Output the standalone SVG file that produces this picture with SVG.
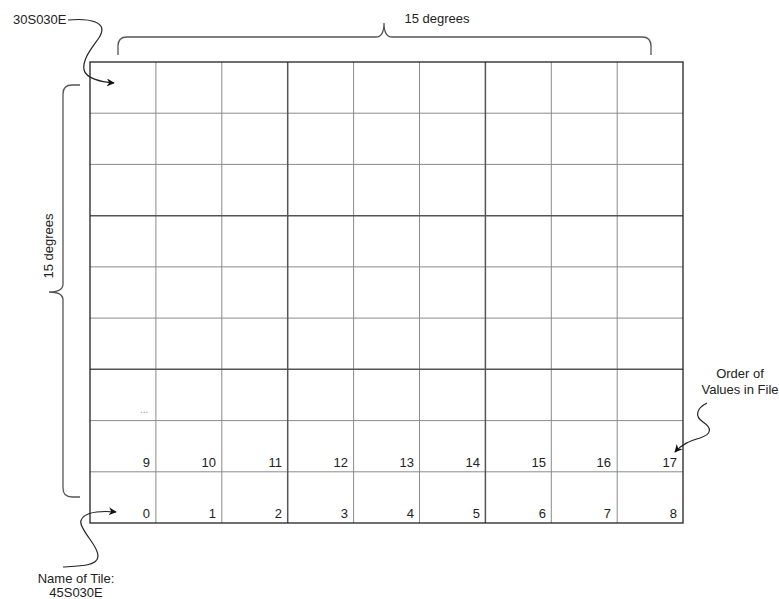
<svg xmlns="http://www.w3.org/2000/svg" width="779" height="599" viewBox="0 0 779 599">
<defs>
<style>
text{font-family:"Liberation Sans",Arial,sans-serif;font-size:13px;fill:#222}
.num{text-anchor:end}
.thin{stroke:#8a8a8a;stroke-width:1;fill:none}
.thick{stroke:#555;stroke-width:1.5;fill:none}
.brace{stroke:#555;stroke-width:1.3;fill:none}
.conn{stroke:#222;stroke-width:1.2;fill:none}
</style>
<marker id="arr" viewBox="0 0 10 10" refX="9" refY="5" markerWidth="8" markerHeight="8" orient="auto" markerUnits="userSpaceOnUse">
<path d="M0,0 L10,5 L0,10 L3,5 Z" fill="#111"/>
</marker>
</defs>
<rect width="779" height="599" fill="#fff"/>
<g id="grid">
<g class="thin">
<line x1="155.9" y1="62" x2="155.9" y2="523"/>
<line x1="221.8" y1="62" x2="221.8" y2="523"/>
<line x1="353.6" y1="62" x2="353.6" y2="523"/>
<line x1="419.5" y1="62" x2="419.5" y2="523"/>
<line x1="551.3" y1="62" x2="551.3" y2="523"/>
<line x1="617.2" y1="62" x2="617.2" y2="523"/>
<line x1="90" y1="113.2" x2="683" y2="113.2"/>
<line x1="90" y1="164.4" x2="683" y2="164.4"/>
<line x1="90" y1="266.9" x2="683" y2="266.9"/>
<line x1="90" y1="318.1" x2="683" y2="318.1"/>
<line x1="90" y1="420.6" x2="683" y2="420.6"/>
<line x1="90" y1="471.8" x2="683" y2="471.8"/>
</g>
<g class="thick">
<line x1="287.7" y1="62" x2="287.7" y2="523"/>
<line x1="485.4" y1="62" x2="485.4" y2="523"/>
<line x1="90" y1="215.7" x2="683" y2="215.7"/>
<line x1="90" y1="369.3" x2="683" y2="369.3"/>
</g>
<rect x="90" y="62" width="593" height="461" fill="none" stroke="#222" stroke-width="1.3"/>
</g>
<g id="values">
<text x="140" y="413" style="fill:#999;font-size:10px">...</text>
<text class="num" x="150" y="467">9</text>
<text class="num" x="216" y="467">10</text>
<text class="num" x="282" y="467">11</text>
<text class="num" x="348" y="467">12</text>
<text class="num" x="414" y="467">13</text>
<text class="num" x="480" y="467">14</text>
<text class="num" x="546" y="467">15</text>
<text class="num" x="611" y="467">16</text>
<text class="num" x="677" y="467">17</text>
<text class="num" x="150" y="518">0</text>
<text class="num" x="216" y="518">1</text>
<text class="num" x="282" y="518">2</text>
<text class="num" x="348" y="518">3</text>
<text class="num" x="414" y="518">4</text>
<text class="num" x="480" y="518">5</text>
<text class="num" x="546" y="518">6</text>
<text class="num" x="611" y="518">7</text>
<text class="num" x="677" y="518">8</text>
</g>
<g id="top-brace">
<path class="brace" d="M118,55 L118,46 Q118,37 127,37 L376,37 Q384,37 384,23 Q384,37 392,37 L642,37 Q651,37 651,46 L651,55"/>
<text x="437" y="23" text-anchor="middle">15 degrees</text>
</g>
<g id="left-brace">
<path class="brace" d="M80,85 L72,85 Q63,85 63,94 L63,284 Q63,292 49,292 Q63,292 63,300 L63,488 Q63,497 72,497 L80,497"/>
<text transform="translate(53,246) rotate(-90)" text-anchor="middle">15 degrees</text>
</g>
<g id="label-30S030E">
<text x="13" y="24">30S030E</text>
</g>
<g id="label-name">
<text x="76" y="583" text-anchor="middle">Name of Tile:</text>
<text x="76" y="597" text-anchor="middle">45S030E</text>
</g>
<g id="label-order">
<text x="740" y="378" text-anchor="middle">Order of</text>
<text x="740" y="394" text-anchor="middle">Values in File</text>
</g>
<g id="connectors">
<path class="conn" marker-end="url(#arr)" d="M68,20 C90,18 108,22 100,36 C94,46 82,58 84,70 C86,78 100,82 114,83"/>
<path class="conn" marker-end="url(#arr)" d="M63,567 C80,566 98,566 98,556 C98,546 85,536 81,524 C79,514 94,510 116,512"/>
<path class="conn" marker-end="url(#arr)" d="M707,403 C697,408 694,416 703,422 C712,428 712,434 700,438 C690,441 682,444 675,452"/>
</g>
</svg>
